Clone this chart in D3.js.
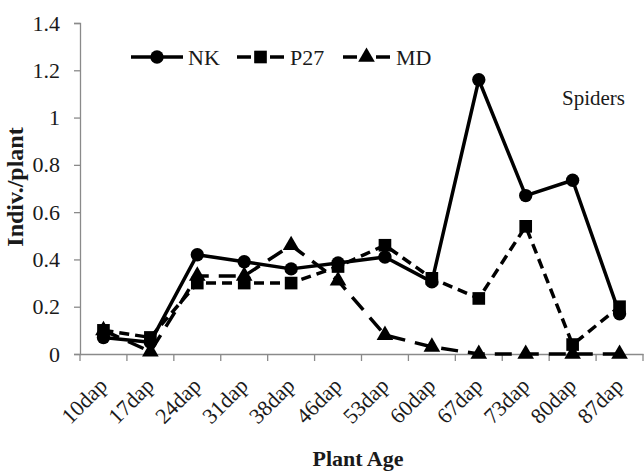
<!DOCTYPE html>
<html><head><meta charset="utf-8">
<script src="https://cdn.jsdelivr.net/npm/d3@7"></script>
<style>body{margin:0;background:#fff}svg{display:block}svg text{font-family:'Liberation Serif','DejaVu Serif',serif !important;fill:#1a1a1a}</style>
</head><body><svg id="c" width="644" height="475"></svg>
<script>
const categories = ["10dap","17dap","24dap","31dap","38dap","46dap","53dap","60dap","67dap","73dap","80dap","87dap"];
const nkValues  = [0.07,0.05,0.42,0.39,0.36,0.385,0.41,0.305,1.16,0.67,0.735,0.17];
const p27Values = [0.10,0.07,0.30,0.30,0.30,0.37,0.46,0.32,0.235,0.54,0.04,0.20];
const mdValues  = [0.10,0.01,0.33,0.33,0.46,0.31,0.08,0.03,0,0,0,0];
const yTicks = [0,0.2,0.4,0.6,0.8,1,1.2,1.4];
const seriesNames = ["NK","P27","MD"];

const FONT = "'Liberation Serif','DejaVu Serif',serif";
const svg = d3.select("#c");
const x = d3.scaleBand().domain(categories).range([80,643]).paddingInner(0).paddingOuter(0);
const y = d3.scaleLinear().domain([0,1.4]).range([354,23]);
const axisColor = "#8a8a8a";

// y axis
const ya = svg.append("g").attr("transform","translate(80,0)")
  .call(d3.axisLeft(y).tickValues(yTicks).tickSize(6).tickPadding(14).tickFormat(d=>String(+d.toFixed(1))));
ya.attr("font-family",FONT);
ya.select(".domain").attr("stroke",axisColor).attr("stroke-width",1.3);
ya.selectAll(".tick line").attr("stroke",axisColor).attr("stroke-width",1.3);
ya.selectAll(".tick text").attr("font-size",22).attr("fill","#1a1a1a");

// x axis
const xa = svg.append("g").attr("transform","translate(0,354)")
  .call(d3.axisBottom(x).tickSize(0).tickSizeOuter(0));
xa.attr("font-family",FONT);
xa.select(".domain").attr("stroke",axisColor).attr("stroke-width",1.3);
const bounds = categories.map(c=>x(c)).concat([x.range()[1]]);
xa.selectAll(".bt").data(bounds).enter().append("line").attr("class","bt")
  .attr("x1",d=>d).attr("x2",d=>d).attr("y1",0).attr("y2",7).attr("stroke",axisColor).attr("stroke-width",1.3);
xa.selectAll(".tick text")
  .attr("font-size",22).attr("fill","#1a1a1a")
  .attr("text-anchor","end").attr("dy",0).attr("x",0).attr("y",0)
  .attr("transform","translate(5,33) rotate(-45)");

// titles
svg.append("text").attr("x",358).attr("y",466).attr("text-anchor","middle")
  .attr("font-size",22).attr("font-weight","bold").text("Plant Age");
svg.append("text").attr("transform","translate(23,187) rotate(-90)").attr("text-anchor","middle")
  .attr("font-size",24).attr("font-weight","bold").text("Indiv./plant");
svg.append("text").attr("x",562).attr("y",105).attr("font-size",21).text("Spiders");

const line = d3.line().x((d,i)=>x(categories[i])+x.bandwidth()/2).y(d=>y(d));
const styles = {
  NK:{data:nkValues,dash:null,marker:"circle"},
  P27:{data:p27Values,dash:"10,6",marker:"square"},
  MD:{data:mdValues,dash:"17,10",marker:"triangle"}
};
const sym = {circle:d3.symbolCircle,square:d3.symbolSquare,triangle:d3.symbolTriangle};
const symSize = {circle:140,square:160,triangle:120};

seriesNames.forEach(n=>{
  const s = styles[n];
  svg.append("path").datum(s.data).attr("d",line).attr("fill","none")
    .attr("stroke","#000").attr("stroke-width",3.5).attr("stroke-linejoin","round")
    .attr("stroke-dasharray",s.dash);
  svg.selectAll(null).data(s.data).enter().append("path")
    .attr("d",d3.symbol().type(sym[s.marker]).size(symSize[s.marker]))
    .attr("transform",(d,i)=>`translate(${x(categories[i])+x.bandwidth()/2},${y(d)})`)
    .attr("fill","#000");
});

// legend
const legendX = [131,237,343];
seriesNames.forEach((n,i)=>{
  const s = styles[n];
  const g = svg.append("g").attr("transform",`translate(${legendX[i]},57)`);
  if(n==="NK"){
    g.append("line").attr("x1",0).attr("x2",52).attr("stroke","#000").attr("stroke-width",3.5);
  } else {
    g.append("line").attr("x1",0).attr("x2",14).attr("stroke","#000").attr("stroke-width",3.5);
    g.append("line").attr("x1",33).attr("x2",47).attr("stroke","#000").attr("stroke-width",3.5);
  }
  const cx = n==="NK"?26:23.5;
  g.append("path").attr("d",d3.symbol().type(sym[s.marker]).size(symSize[s.marker]))
    .attr("transform",`translate(${cx},0)`).attr("fill","#000");
  g.append("text").attr("x",n==="NK"?57:53).attr("y",8).attr("font-size",22).text(n);
});
</script></body></html>
